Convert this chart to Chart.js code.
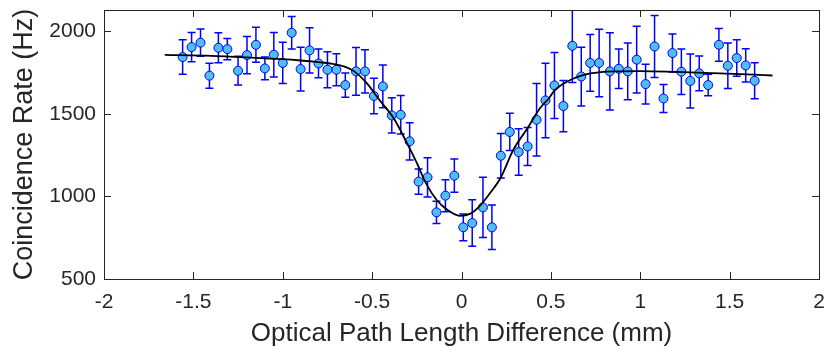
<!DOCTYPE html>
<html>
<head>
<meta charset="utf-8">
<script src="https://cdn.jsdelivr.net/npm/chart.js@4.4.0/dist/chart.umd.min.js"></script>
<style>
  html, body { margin: 0; padding: 0; background: #fff; }
  #wrap { width: 826px; height: 347px; }
</style>
</head>
<body>
<div id="wrap"><canvas id="hom" width="826" height="347"></canvas></div>
<script>
// measured points (mm, Hz) and their error bars
var delay = [-1.56, -1.51, -1.46, -1.41, -1.36, -1.31, -1.25, -1.20, -1.15, -1.10, -1.05, -1.00, -0.95, -0.90, -0.85, -0.80,
  -0.75, -0.70, -0.65, -0.59, -0.54, -0.49, -0.44, -0.39, -0.34, -0.29, -0.24, -0.19, -0.14, -0.09, -0.04, 0.01,
  0.06, 0.12, 0.17, 0.22, 0.27, 0.32, 0.37, 0.42, 0.47, 0.52, 0.57, 0.62, 0.67, 0.72, 0.77, 0.83,
  0.88, 0.93, 0.98, 1.03, 1.08, 1.13, 1.18, 1.23, 1.28, 1.33, 1.38, 1.44, 1.49, 1.54, 1.59, 1.64];
var rate = [1845, 1905, 1932, 1732, 1901, 1893, 1762, 1857, 1919, 1776, 1859, 1809, 1992, 1772, 1885, 1806,
  1768, 1768, 1675, 1758, 1758, 1609, 1667, 1491, 1495, 1334, 1090, 1116, 904, 1005, 1126, 813,
  839, 934, 813, 1247, 1391, 1269, 1303, 1465, 1582, 1673, 1548, 1913, 1727, 1809, 1809, 1758,
  1774, 1758, 1829, 1681, 1909, 1594, 1869, 1756, 1700, 1746, 1675, 1919, 1792, 1839, 1794, 1701];
var rateErr = [104, 89, 83, 76, 91, 65, 87, 113, 106, 69, 135, 125, 99, 133, 137, 87,
  109, 97, 74, 145, 131, 107, 129, 107, 117, 113, 76, 119, 67, 97, 101, 81,
  141, 182, 135, 135, 113, 141, 115, 220, 226, 200, 155, 222, 178, 172, 204, 234,
  119, 172, 202, 121, 188, 85, 115, 138, 164, 105, 65, 99, 138, 111, 101, 109];

// fitted dip
var fitX = [-1.66, -1.4, -1.2, -1.0, -0.9, -0.8, -0.72, -0.65, -0.6, -0.53, -0.46, -0.38, -0.31, -0.25, -0.2, -0.14,
  -0.08, -0.01, 0.05, 0.1, 0.16, 0.22, 0.29, 0.37, 0.44, 0.49, 0.52, 0.57, 0.62, 0.67, 0.72, 0.78,
  0.85, 1.0, 1.2, 1.4, 1.6, 1.74];
var fitY = [1858, 1852, 1843, 1832, 1824, 1814, 1804, 1785, 1758, 1687, 1586, 1475, 1334, 1203, 1082, 980,
  920, 883, 896, 940, 1021, 1115, 1283, 1415, 1536, 1597, 1641, 1683, 1712, 1732, 1746, 1754,
  1758, 1760, 1755, 1748, 1740, 1733];

var xTicks = [-2, -1.5, -1, -0.5, 0, 0.5, 1, 1.5, 2];
var yTicks = [500, 1000, 1500, 2000];

var axisCol = '#262626';
var fontFam = '"Liberation Sans", Arial, Helvetica, sans-serif';

var pts = [];
for (var i = 0; i < delay.length; i++) pts.push({x: delay[i], y: rate[i]});
var fit = [];
for (var j = 0; j < fitX.length; j++) fit.push({x: fitX[j], y: fitY[j]});

// error bars under the markers
var errBars = {
  id: 'errBars',
  beforeDatasetsDraw: function(chart) {
    var ctx = chart.ctx, xs = chart.scales.x, ys = chart.scales.y, a = chart.chartArea;
    ctx.save();
    ctx.beginPath();
    ctx.rect(a.left, a.top, a.right - a.left, a.bottom - a.top);
    ctx.clip();
    ctx.strokeStyle = '#0000ff';
    ctx.lineWidth = 1.5;
    for (var i = 0; i < delay.length; i++) {
      var px = xs.getPixelForValue(delay[i]);
      var top = ys.getPixelForValue(rate[i] + rateErr[i]);
      var bot = ys.getPixelForValue(rate[i] - rateErr[i]);
      ctx.beginPath();
      ctx.moveTo(px, top); ctx.lineTo(px, bot);
      ctx.moveTo(px - 4, top); ctx.lineTo(px + 4, top);
      ctx.moveTo(px - 4, bot); ctx.lineTo(px + 4, bot);
      ctx.stroke();
    }
    ctx.restore();
  }
};

// matlab style box with inward ticks on all four sides
var boxTicks = {
  id: 'boxTicks',
  afterDraw: function(chart) {
    var ctx = chart.ctx, xs = chart.scales.x, ys = chart.scales.y, a = chart.chartArea;
    var len = 7;
    ctx.save();
    ctx.strokeStyle = axisCol;
    ctx.lineWidth = 1;
    ctx.strokeRect(Math.round(a.left) + 0.5, Math.round(a.top) + 0.5, Math.round(a.right - a.left), Math.round(a.bottom - a.top));
    ctx.beginPath();
    xTicks.forEach(function(v) {
      var p = Math.round(xs.getPixelForValue(v)) + 0.5;
      ctx.moveTo(p, a.bottom); ctx.lineTo(p, a.bottom - len);
      ctx.moveTo(p, a.top); ctx.lineTo(p, a.top + len);
    });
    yTicks.forEach(function(v) {
      var p = Math.round(ys.getPixelForValue(v)) + 0.5;
      ctx.moveTo(a.left, p); ctx.lineTo(a.left + len, p);
      ctx.moveTo(a.right, p); ctx.lineTo(a.right - len, p);
    });
    ctx.stroke();
    ctx.restore();
  }
};

var ctx = document.getElementById('hom').getContext('2d');
var chart = new Chart(ctx, {
  type: 'scatter',
  data: {
    datasets: [
      {
        type: 'line',
        label: 'fit',
        data: fit,
        borderColor: '#000000',
        borderWidth: 1.8,
        pointRadius: 0,
        fill: false,
        cubicInterpolationMode: 'monotone',
        order: 0
      },
      {
        label: 'data',
        data: pts,
        backgroundColor: '#4DBEEE',
        borderColor: '#0000ff',
        borderWidth: 1,
        pointRadius: 4.5,
        order: 1
      }
    ]
  },
  options: {
    responsive: false,
    animation: false,
    devicePixelRatio: 1,
    layout: { padding: { left: 0, right: 7, top: 10, bottom: 0 } },
    plugins: { legend: { display: false }, tooltip: { enabled: false } },
    scales: {
      x: {
        type: 'linear',
        min: -2, max: 2,
        afterBuildTicks: function(s) { s.ticks = xTicks.map(function(v) { return {value: v}; }); },
        afterFit: function(s) { s.height = 68; s.paddingLeft = 0; s.paddingRight = 0; },
        grid: { display: false, drawTicks: false },
        border: { display: false },
        ticks: {
          color: axisCol, padding: 11,
          font: { family: fontFam, size: 21 },
          callback: function(v) { return String(v); }
        },
        title: {
          display: true, text: 'Optical Path Length Difference (mm)', color: axisCol,
          font: { family: fontFam, size: 26, lineHeight: 1.05 }, padding: { top: 0, bottom: 0 }
        }
      },
      y: {
        type: 'linear',
        min: 500, max: 2130,
        afterBuildTicks: function(s) { s.ticks = yTicks.map(function(v) { return {value: v}; }); },
        afterFit: function(s) { s.width = 104; s.paddingTop = 0; s.paddingBottom = 0; },
        grid: { display: false, drawTicks: false },
        border: { display: false },
        ticks: {
          color: axisCol, padding: 8,
          font: { family: fontFam, size: 21 },
          callback: function(v) { return String(v); }
        },
        title: {
          display: true, text: 'Coincidence Rate (Hz)', color: axisCol,
          font: { family: fontFam, size: 27 }, padding: { top: 8, bottom: 0 }
        }
      }
    }
  },
  plugins: [errBars, boxTicks]
});
</script>
</body>
</html>
